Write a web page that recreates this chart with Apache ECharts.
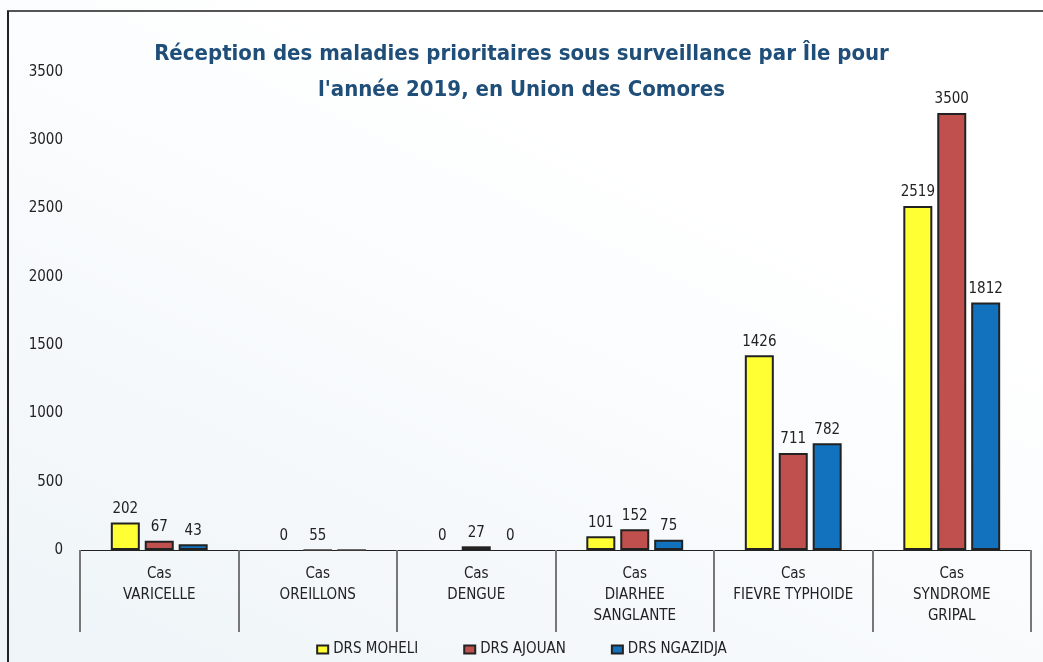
<!DOCTYPE html>
<html>
<head>
<meta charset="utf-8">
<script src="https://cdn.jsdelivr.net/npm/echarts@6/dist/echarts.min.js"></script>
<style>
html,body{margin:0;padding:0;width:1043px;height:662px;overflow:hidden;}
#c{width:1043px;height:662px;}
</style>
</head>
<body>
<div id="c"></div>
<script>
var categories = ["Cas\nVARICELLE", "Cas\nOREILLONS", "Cas\nDENGUE", "Cas\nDIARHEE\nSANGLANTE", "Cas\nFIEVRE TYPHOIDE", "Cas\nSYNDROME\nGRIPAL"];
var seriesNames = ["DRS MOHELI", "DRS AJOUAN", "DRS NGAZIDJA"];
// bar heights as drawn in the picture
var moheli   = [202, 0, 0, 101, 1426, 2519];
var ajouan   = [67, 4, 27, 152, 711, 3200];
var ngazidja = [43, 4, 0, 75, 782, 1812];
// value labels as printed in the picture
var moheliLabels   = ["202", "0", "0", "101", "1426", "2519"];
var ajouanLabels   = ["67", "55", "27", "152", "711", "3500"];
var ngazidjaLabels = ["43", "", "0", "75", "782", "1812"];
var colors = ["#FFFF33", "#C0504D", "#1272BE"];

var FONT = "'DejaVu Sans Condensed', 'Roboto', sans-serif";
var chart = echarts.init(document.getElementById('c'), null, {renderer: 'canvas'});

function mk(name, vals, labels, color) {
  return {
    name: name,
    type: 'bar',
    barWidth: 29,
    barGap: '17%',
    data: vals.map(function (v, i) {
      var d = {value: v};
      if (v === 0) {
        d.itemStyle = {borderWidth: 0, opacity: 0};
      } else if (i === 1) {
        d.itemStyle = {color: '#777', borderColor: '#666', borderWidth: 1};
      }
      return d;
    }),
    itemStyle: {color: color, borderColor: '#222', borderWidth: 2},
    label: {
      show: true, position: 'top', distance: 6,
      fontFamily: FONT, fontSize: 15, color: '#222', opacity: 1,
      formatter: function (p) { return labels[p.dataIndex]; }
    }
  };
}

chart.setOption({
  backgroundColor: {
    type: 'linear', x: 0.3, y: 0, x2: 0, y2: 1,
    colorStops: [{offset: 0, color: '#ffffff'}, {offset: 1, color: '#eef4f8'}]
  },
  textStyle: {fontFamily: FONT},
  title: {
    text: "Réception des maladies prioritaires sous surveillance par Île pour\nl'année 2019, en Union des Comores",
    left: 'center', top: 31,
    textStyle: {fontFamily: FONT, fontSize: 22, fontWeight: 'bold', color: '#1F4E79', lineHeight: 36}
  },
  legend: {
    bottom: 0, left: 'center',
    itemWidth: 11, itemHeight: 8, itemGap: 45,
    icon: 'rect',
    textStyle: {fontFamily: FONT, fontSize: 15, color: '#222'},
    data: seriesNames
  },
  grid: {left: 80, right: 12, top: 72, bottom: 112},
  xAxis: {
    type: 'category',
    data: categories,
    axisLine: {lineStyle: {color: '#222', width: 1}},
    axisTick: {show: true, interval: 0, length: 82, lineStyle: {color: '#777', width: 2}},
    axisLabel: {interval: 0, margin: 14, fontFamily: FONT, fontSize: 15, color: '#222', lineHeight: 21}
  },
  yAxis: {
    type: 'value', min: 0, max: 3500, interval: 500,
    axisLine: {show: false}, axisTick: {show: false}, splitLine: {show: false},
    axisLabel: {margin: 17, fontFamily: FONT, fontSize: 15, color: '#222', formatter: function (v) { return String(v); }}
  },
  graphic: [
    {type: 'line', shape: {x1: 7, y1: 11, x2: 1043, y2: 11}, style: {stroke: '#555', lineWidth: 2}},
    {type: 'line', shape: {x1: 8, y1: 11, x2: 8, y2: 662}, style: {stroke: '#222', lineWidth: 2}}
  ],
  series: [
    mk(seriesNames[0], moheli, moheliLabels, colors[0]),
    mk(seriesNames[1], ajouan, ajouanLabels, colors[1]),
    mk(seriesNames[2], ngazidja, ngazidjaLabels, colors[2])
  ]
});
</script>
</body>
</html>
